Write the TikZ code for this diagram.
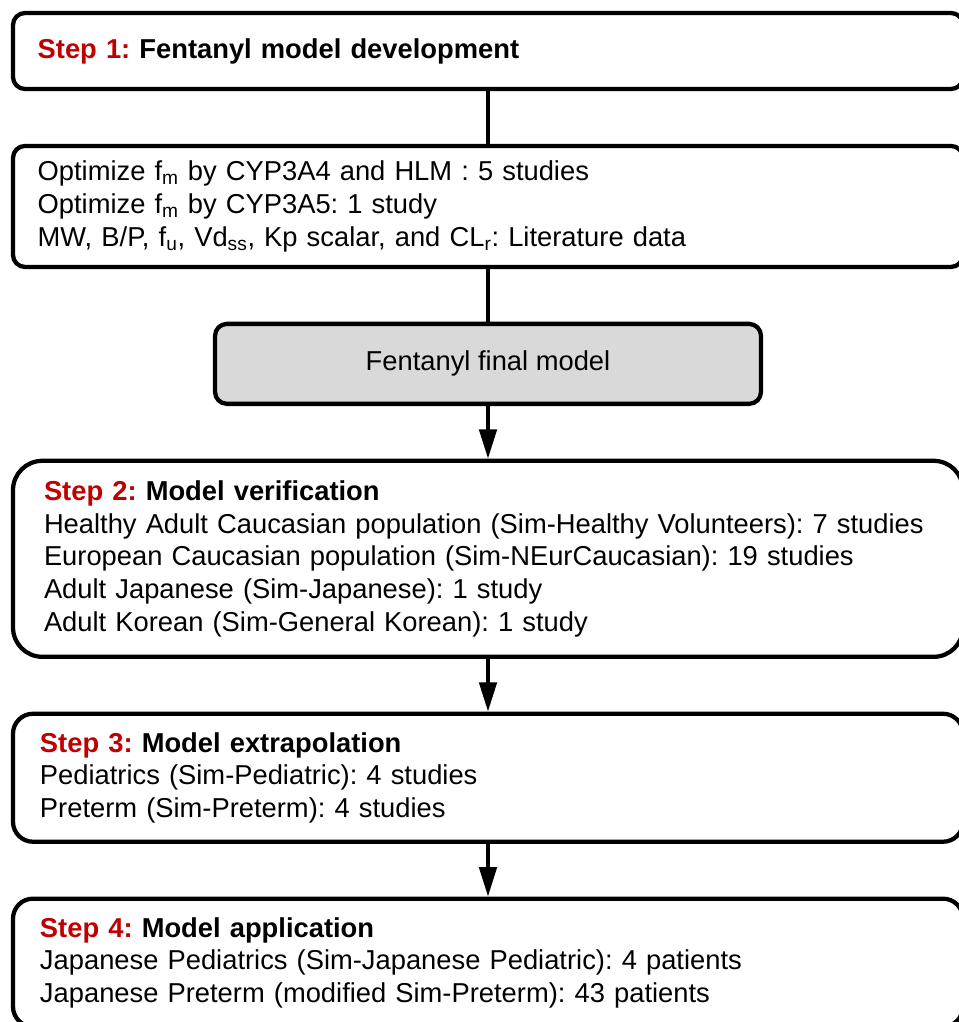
\documentclass[tikz,border=0pt]{standalone}
\usepackage{fontspec}
\setmainfont{Liberation Sans}
\usepackage{xcolor}
\usepackage{tikz}
\usetikzlibrary{arrows.meta, positioning}

\definecolor{stepred}{HTML}{C00000}
\definecolor{finalgray}{HTML}{D9D9D9}

\frenchspacing

\begin{document}
\begin{tikzpicture}[
		% Defining consistent styles
		stepbox/.style={
				rectangle,
				rounded corners=9pt,
				draw=black,
				line width=3.2pt,
				minimum width=712.5pt,
				inner xsep=18.5pt,
				inner ysep=0pt,
				text width=675.5pt,
				align=left,
				font=\fontsize{20.5}{24.5}\selectfont,
				fill=white
			},
		finalbox/.style={
				rectangle,
				rounded corners=9pt,
				draw=black,
				line width=3.2pt,
				minimum width=409.5pt,
				minimum height=60pt,
				align=center,
				font=\fontsize{20.5}{24.5}\selectfont,
				fill=finalgray
			},
		% Defining arrow styles
		link/.style={
				line width=2.8pt,
				draw=black
			},
		arrow/.style={
				link,
				-{Triangle[length=22pt,width=13pt]}
			},
		node distance=39.5pt
		]

		\useasboundingbox (0,0) rectangle (718.5pt,-766.5pt);

		% Step 1
		\node[stepbox, minimum height=57pt] (dev_title) at (366pt,-38.25pt) {
				\textbf{\textcolor{stepred}{Step 1:} Fentanyl model development}
			};

		\node[stepbox, minimum height=90.75pt, below=of dev_title] (dev_input) {
				Optimize f\textsubscript{m} by CYP3A4 and HLM : 5 studies \\
				Optimize f\textsubscript{m} by CYP3A5: 1 study \\
				MW, B/P, f\textsubscript{u}, Vd\textsubscript{ss}, Kp scalar, and CL\textsubscript{r}: Literature data
			};

		\node[finalbox, below=of dev_input] (final_model) {Fentanyl final model};

		% Step 2
		\node[stepbox, rounded corners=22pt, minimum height=147pt,
				inner xsep=23.25pt, text width=666pt, below=of final_model] (verification) {
				\textbf{\textcolor{stepred}{Step 2:} Model verification} \\
				Healthy Adult Caucasian population (Sim-Healthy Volunteers): 7 studies \\
				European Caucasian population (Sim-NEurCaucasian): 19 studies \\
				Adult Japanese (Sim-Japanese): 1 study \\
				Adult Korean (Sim-General Korean): 1 study
			};

		% Step 3
		\node[stepbox, rounded corners=15pt, minimum height=96pt,
				inner xsep=20.25pt, text width=672pt, below=of verification] (extrapolation) {
				\textbf{\textcolor{stepred}{Step 3:} Model extrapolation} \\
				Pediatrics (Sim-Pediatric): 4 studies \\
				Preterm (Sim-Preterm): 4 studies
			};

		% Step 4
		\node[stepbox, rounded corners=15pt, minimum height=96pt,
				inner xsep=20.25pt, text width=672pt, below=of extrapolation] (application) {
				\textbf{\textcolor{stepred}{Step 4:} Model application} \\
				Japanese Pediatrics (Sim-Japanese Pediatric): 4 patients \\
				Japanese Preterm (modified Sim-Preterm): 43 patients
			};

		% Drawing flow lines
		\draw[link] (dev_title.south) -- (dev_input.north);
		\draw[link] (dev_input.south) -- (final_model.north);
		\draw[arrow] (final_model.south) -- (verification.north);
		\draw[arrow] (verification.south) -- (extrapolation.north);
		\draw[arrow] (extrapolation.south) -- (application.north);

	\end{tikzpicture}
\end{document}
